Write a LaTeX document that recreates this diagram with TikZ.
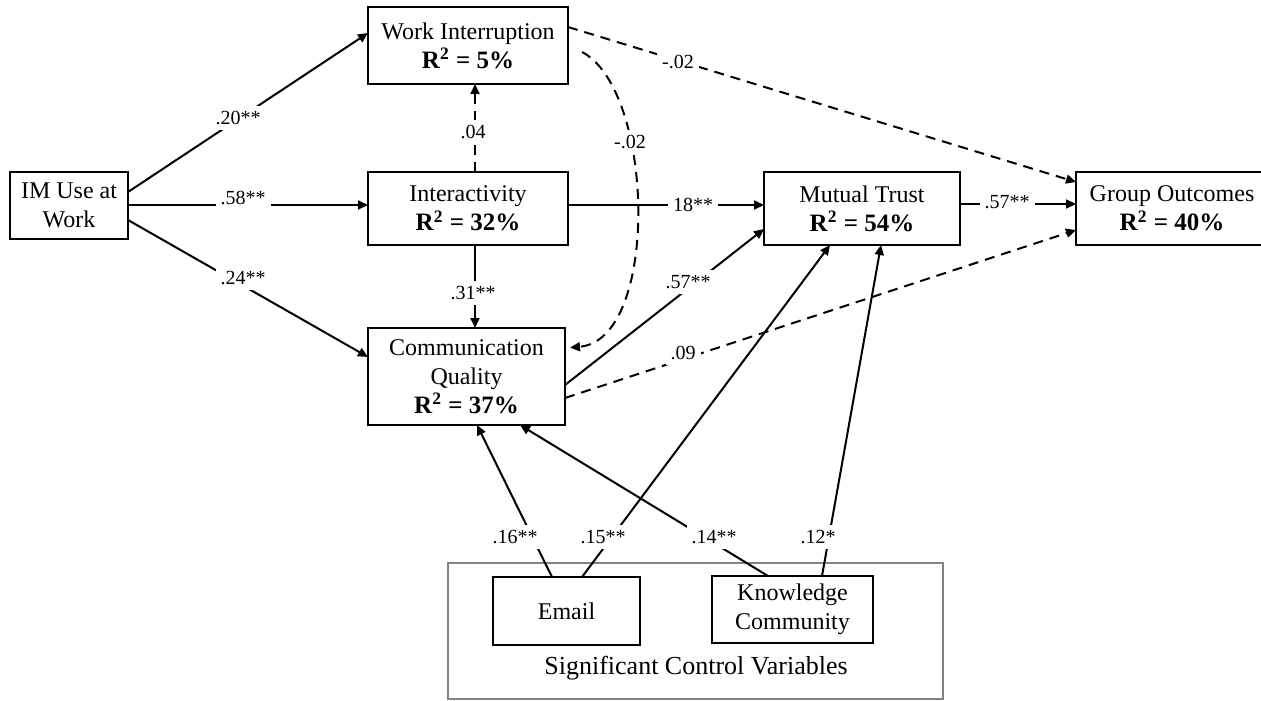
\documentclass[tikz,border=0pt]{standalone}
\usepackage{fontspec}
\setmainfont{Liberation Serif}
\usepackage{tikz}
\usetikzlibrary{arrows.meta,positioning}
\definecolor{ctrlgray}{RGB}{130,130,130}
\newcommand{\rsq}[1]{{\bfseries\fontsize{12.5}{14.5}\selectfont R\textsuperscript{2} = #1\%}}

\begin{document}
\begin{tikzpicture}[x=0.5pt,y=-0.5pt,>={Triangle[length=5pt,width=4.5pt]}]
\tikzstyle{box}=[draw,line width=1pt,inner sep=0pt,outer sep=0pt,align=center,font=\fontsize{12}{14.5}\selectfont]
\tikzstyle{lbl}=[fill=white,inner sep=2.5pt,font=\fontsize{10}{12}\selectfont]
\tikzstyle{arr}=[->,line width=1pt]
\tikzstyle{dsh}=[dash pattern=on 5pt off 3.5pt]
\useasboundingbox (0,0) rectangle (1261,700);
% control variables frame
\node[draw=ctrlgray,line width=1pt,minimum width=247.5pt,minimum height=68pt,inner sep=0pt] (ctrl) at (695.5,631) {};
\node[font=\fontsize{13}{15}\selectfont] (ctrltxt) at (696,668) {Significant Control Variables};
% constructs
\node[box,minimum width=59pt,minimum height=33.5pt] (im) at (69,205.5) {IM Use at\\Work};
\node[box,minimum width=100pt,minimum height=38.5pt] (wi) at (468,45.5) {Work Interruption\\\rsq{5}};
\node[box,minimum width=100pt,minimum height=36.5pt] (inter) at (468,208.5) {Interactivity\\\rsq{32}};
\node[box,minimum width=98.5pt,minimum height=48.5pt] (cq) at (466.5,376.5) {Communication\\Quality\\\rsq{37}};
\node[box,minimum width=98pt,minimum height=36.5pt] (mt) at (862,208.5) {Mutual Trust\\\rsq{54}};
\node[box,minimum width=96pt,minimum height=36.5pt] (go) at (1172,208.5) {Group Outcomes\\\rsq{40}};
\node[box,minimum width=73.5pt,minimum height=34pt] (email) at (566.5,611) {Email};
\node[box,minimum width=80.5pt,minimum height=33.5pt] (kc) at (792.5,609.5) {Knowledge\\Community};
\coordinate (wiout) at (582,52);
% paths
\draw[arr] (im.east |- 0,192) -- (wi.west |- 0,33);
\draw[arr] (im.east |- 0,205) -- (inter.west |- 0,205);
\draw[arr] (im.east |- 0,220) -- (cq.west |- 0,357);
\draw[arr,dsh] (inter.north -| 475,0) -- (wi.south -| 475,0);
\draw[arr] (inter.south -| 475,0) -- (cq.north -| 475,0);
\draw[arr] (inter.east |- 0,205) -- (mt.west |- 0,205);
\draw[arr,dsh] (wi.east |- 0,27) -- (go.west |- 0,182);
\draw[arr,dsh,shorten >=2.5pt] (wiout) .. controls (655,90) and (660,340) .. (cq.east |- 0,348);
\draw[arr] (cq.east |- 0,385) -- (mt.west |- 0,229);
\draw[arr,dsh] (cq.east |- 0,398) -- (go.west |- 0,230);
\draw[arr] (mt.east |- 0,204) -- (go.west |- 0,204);
\draw[arr] (email.north -| 552,0) -- (cq.south -| 477,0);
\draw[arr] (email.north -| 582,0) -- (mt.south -| 830,0);
\draw[arr] (kc.north -| 768,0) -- (cq.south -| 520,0);
\draw[arr] (kc.north -| 822,0) -- (mt.south -| 881,0);
% path coefficients
\node[lbl] (c1) at (238,118) {.20**};
\node[lbl] (c2) at (243,198) {.58**};
\node[lbl] (c3) at (243,278) {.24**};
\node[lbl] (c4) at (473,132) {.04};
\node[lbl] (c5) at (630,142) {-.02};
\node[lbl] (c6) at (678,62) {-.02};
\node[lbl] (c7) at (693,205) {18**};
\node[lbl] (c8) at (473,293) {.31**};
\node[lbl] (c9) at (688,282) {.57**};
\node[lbl] (c10) at (683,353) {.09};
\node[lbl] (c11) at (1007,202) {.57**};
\node[lbl] (c12) at (515,537) {.16**};
\node[lbl] (c13) at (603,537) {.15**};
\node[lbl] (c14) at (714,537) {.14**};
\node[lbl] (c15) at (818,537) {.12*};
\end{tikzpicture}
\end{document}
